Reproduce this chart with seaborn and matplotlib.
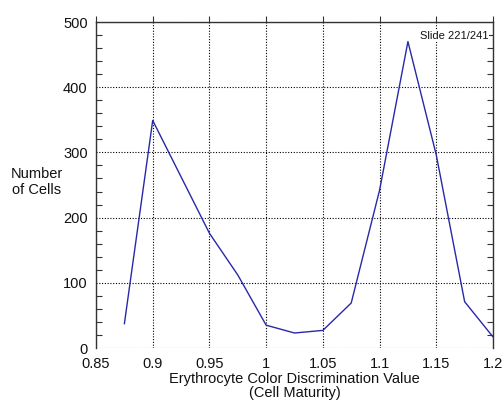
import matplotlib
matplotlib.use("Agg")
import matplotlib.pyplot as plt
import seaborn as sns
import pandas as pd
from matplotlib.ticker import MultipleLocator, FuncFormatter

x_values = [0.875, 0.9, 0.95, 0.975, 1.0, 1.025, 1.05, 1.075, 1.1, 1.125, 1.15, 1.175, 1.2]
cell_counts = [37, 349, 176, 112, 35, 23, 27, 69, 242, 470, 296, 71, 17]
x_ticks = [0.85, 0.9, 0.95, 1.0, 1.05, 1.1, 1.15, 1.2]
y_ticks = [0, 100, 200, 300, 400, 500]

sns.set_style("white")
plt.rcParams['font.family'] = ['Liberation Sans', 'DejaVu Sans']

df = pd.DataFrame({"x": x_values, "y": cell_counts})

fig = plt.figure(figsize=(5.04, 4.05), dpi=100)
ax = fig.add_axes([96/504, 1-348/405, (493-96)/504, (348-22)/405])
sns.lineplot(data=df, x="x", y="y", ax=ax, color="#2828aa", linewidth=1.0)

ax.set_xlim(0.85, 1.2)
ax.set_ylim(0, 500)
ax.set_xticks(x_ticks)
ax.set_yticks(y_ticks)
ax.xaxis.set_major_formatter(FuncFormatter(lambda v, p: f"{v:g}"))
ax.yaxis.set_minor_locator(MultipleLocator(20))
ax.grid(True, which="major", color="black", linestyle=(0, (1, 1.5)), linewidth=0.8)

for s in ["left", "right", "top"]:
    ax.spines[s].set_visible(True)
    ax.spines[s].set_color("#333333")
    ax.spines[s].set_linewidth(1.0)
ax.spines["bottom"].set_visible(False)

ax.tick_params(axis="y", which="both", direction="in", left=True, right=True, labelsize=10.5, colors="#111111")
ax.tick_params(axis="y", which="major", length=0, pad=6)
ax.tick_params(axis="y", which="minor", length=4, width=0.8, color="#333333")
ax.tick_params(axis="x", which="major", bottom=False, top=True, direction="out", length=4, width=0.8,
               labelsize=10.5, pad=2.5, colors="#111111")
ax.tick_params(axis="x", which="major", color="#333333")

ax.set_xlabel("Erythrocyte Color Discrimination Value\n(Cell Maturity)", fontsize=10.5, color="#111111", labelpad=0.5, linespacing=1.0)
ax.set_ylabel("")
fig.text(37/504, 1-182/405, "Number\nof Cells", fontsize=10.5, ha="center", va="center", color="#111111", linespacing=1.15)
ax.text(0.988, 0.957, "Slide 221/241", transform=ax.transAxes, fontsize=8, ha="right", va="center", color="#111111",
        bbox=dict(facecolor="white", edgecolor="none", pad=0.5))

fig.savefig("out.png", dpi=100)
